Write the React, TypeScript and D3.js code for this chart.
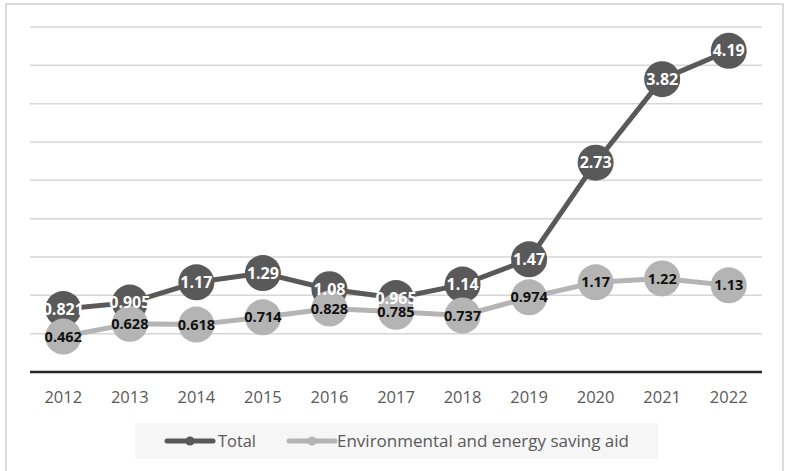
import React from "react";
import * as d3 from "d3";

const years = ["2012", "2013", "2014", "2015", "2016", "2017", "2018", "2019", "2020", "2021", "2022"];
const totalValues = [0.821, 0.905, 1.17, 1.29, 1.08, 0.965, 1.14, 1.47, 2.73, 3.82, 4.19];
const envValues = [0.462, 0.628, 0.618, 0.714, 0.828, 0.785, 0.737, 0.974, 1.17, 1.22, 1.13];
const totalLabels = ["0.821", "0.905", "1.17", "1.29", "1.08", "0.965", "1.14", "1.47", "2.73", "3.82", "4.19"];
const envLabels = ["0.462", "0.628", "0.618", "0.714", "0.828", "0.785", "0.737", "0.974", "1.17", "1.22", "1.13"];
const yTicks = [0.5, 1, 1.5, 2, 2.5, 3, 3.5, 4, 4.5];
const seriesNames = ["Total", "Environmental and energy saving aid"];

const W = 787;
const H = 471;
const FONT = "'Open Sans', 'Noto Sans', sans-serif";

export default function App() {
  const x = d3.scaleBand<string>().domain(years).range([30, 762]).padding(0);
  const y = d3.scaleLinear().domain([0, 4.5]).range([372, 27]);
  const cx = (yr: string) => (x(yr) as number) + x.bandwidth() / 2;

  const line = d3
    .line<number>()
    .x((_, i) => cx(years[i]))
    .y((v) => y(v));

  const dark = "#595959";
  const light = "#b4b4b4";
  const r = 18;

  return (
    <svg
      width={W}
      height={H}
      style={{ position: "absolute", left: 0, top: 0, background: "#fff" }}
      fontFamily={FONT}
    >
      <rect x={6} y={4} width={777} height={475} fill="#fff" stroke="#d0d0d0" strokeWidth={1.5} />

      {yTicks.map((t) => (
        <line key={t} x1={30} x2={762} y1={y(t)} y2={y(t)} stroke="#d6d6d6" strokeWidth={1.5} />
      ))}
      <line x1={30} x2={762} y1={y(0)} y2={y(0)} stroke="#262626" strokeWidth={2.5} />

      {years.map((yr) => (
        <text key={yr} x={cx(yr)} y={397} dy="0.35em" textAnchor="middle" fontSize={16.5} fill="#595959">
          {yr}
        </text>
      ))}

      {/* Total series */}
      <path d={line(totalValues) || ""} fill="none" stroke={dark} strokeWidth={5} strokeLinejoin="round" />
      {totalValues.map((v, i) => (
        <circle key={"t" + i} cx={cx(years[i])} cy={y(v)} r={r} fill={dark} />
      ))}

      {/* Environmental and energy saving aid series */}
      <path d={line(envValues) || ""} fill="none" stroke={light} strokeWidth={5} strokeLinejoin="round" />
      {envValues.map((v, i) => (
        <circle key={"e" + i} cx={cx(years[i])} cy={y(v)} r={r} fill={light} />
      ))}

      {totalValues.map((v, i) => (
        <text
          key={"tl" + i}
          x={cx(years[i])}
          y={y(v)}
          dy="0.35em"
          textAnchor="middle"
          fontSize={16}
          fontWeight="bold"
          fill="#fff"
        >
          {totalLabels[i]}
        </text>
      ))}
      {envValues.map((v, i) => (
        <text
          key={"el" + i}
          x={cx(years[i])}
          y={y(v)}
          dy="0.35em"
          textAnchor="middle"
          fontSize={14.5}
          fontWeight="bold"
          fill="#111"
        >
          {envLabels[i]}
        </text>
      ))}

      {/* Legend */}
      <rect x={135} y={423} width={523} height={36} fill="#f6f6f6" />
      <line x1={167} x2={213} y1={441} y2={441} stroke={dark} strokeWidth={5} strokeLinecap="round" />
      <circle cx={190} cy={441} r={4.5} fill={dark} />
      <text x={218} y={441} dy="0.35em" fontSize={16.5} fill="#595959" textLength={38} lengthAdjust="spacingAndGlyphs">
        {seriesNames[0]}
      </text>
      <line x1={289} x2={335} y1={441} y2={441} stroke={light} strokeWidth={5} strokeLinecap="round" />
      <circle cx={312} cy={441} r={4.5} fill={light} />
      <text x={337} y={441} dy="0.35em" fontSize={16.5} fill="#595959" textLength={292} lengthAdjust="spacingAndGlyphs">
        {seriesNames[1]}
      </text>
    </svg>
  );
}
